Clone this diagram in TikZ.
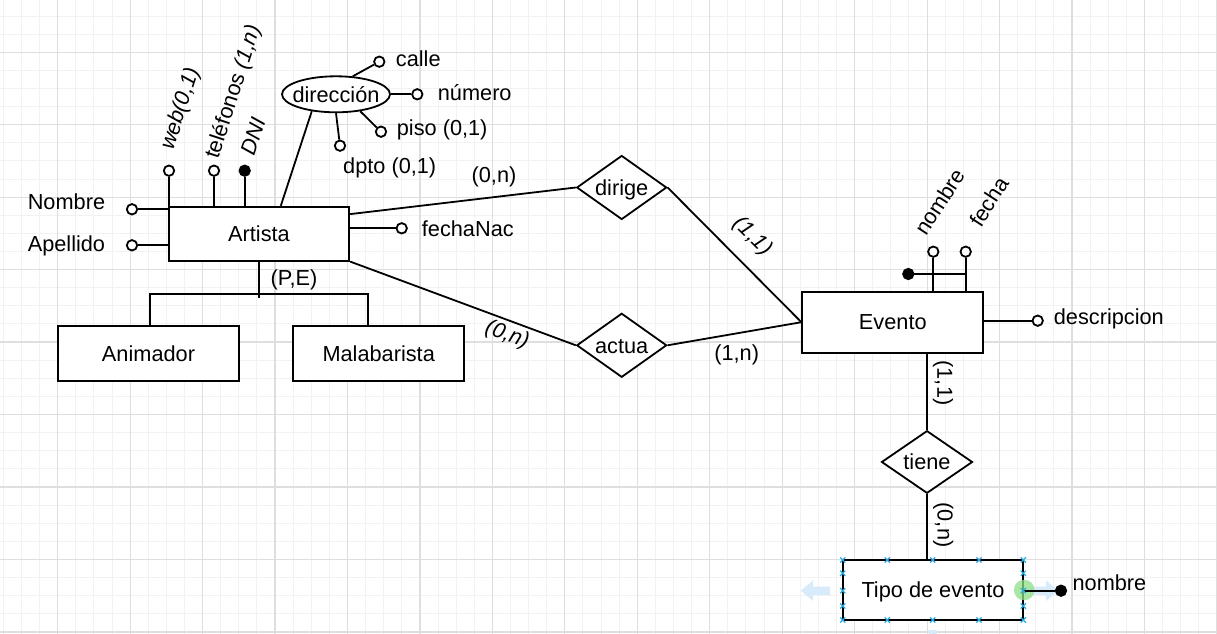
\documentclass[tikz,border=0pt]{standalone}
\usepackage{fontspec}
\setmainfont{Liberation Sans}
\usetikzlibrary{shapes.geometric,calc}
\definecolor{gridmajor}{HTML}{DEDEDE}
\definecolor{gridminor}{HTML}{F2F2F2}
\definecolor{handleblue}{HTML}{29A9E1}
\definecolor{hintblue}{HTML}{D8EBFA}
\definecolor{hovergreen}{HTML}{8EE08A}

\begin{document}
\begin{tikzpicture}[x=0.75pt,y=-0.75pt,
  font=\fontsize{16.3}{19}\selectfont,
  line width=1.35pt,
  lbl/.style={inner sep=0pt},
  entity/.style={draw, fill=white, inner sep=0pt, text height=11.7pt, text depth=0pt},
  relation/.style={draw, fill=white, diamond, aspect=1.4, inner sep=0pt,
    text height=11.7pt, text depth=0pt},
  attr/.style={draw, fill=white, circle, inner sep=0pt, minimum size=7.8pt},
  keyattr/.style={attr, fill=black},
  handle/.style={draw=handleblue, line width=0.9pt},
]
\useasboundingbox (0,0) rectangle (1217,634);

% background grid
\fill[white] (0,0) rectangle (1217,634);
\foreach \i in {-3,...,64}
  \draw[gridminor, line width=0.75pt] ({57.7+18.1125*\i},0) -- ({57.7+18.1125*\i},634);
\foreach \j in {-2,...,32}
  \draw[gridminor, line width=0.75pt] (0,{52.3+18.1125*\j}) -- (1217,{52.3+18.1125*\j});
\foreach \i in {-1,...,16}
  \draw[gridmajor, line width=0.9pt] ({57.7+72.45*\i},0) -- ({57.7+72.45*\i},634);
\foreach \j in {-1,...,8}
  \draw[gridmajor, line width=0.9pt] (0,{52.3+72.45*\j}) -- (1217,{52.3+72.45*\j});

% entities
\node[entity, minimum width=180.6*0.75pt, minimum height=54*0.75pt] (artista) at (259,233.7) {Artista};
\node[entity, minimum width=181.6*0.75pt, minimum height=54.7*0.75pt] (animador) at (148.5,353.3) {Animador};
\node[entity, minimum width=170.7*0.75pt, minimum height=54.7*0.75pt] (malabarista) at (378.7,353.3) {Malabarista};
\node[entity, minimum width=181*0.75pt, minimum height=61*0.75pt] (evento) at (892.8,322.2) {Evento};
\node[entity, minimum width=180.6*0.75pt, minimum height=60*0.75pt] (tipo) at (933,590) {Tipo de evento};

% relationships
\node[relation, minimum width=90*0.75pt, minimum height=64*0.75pt] (dirige) at (621.7,187.5) {dirige};
\node[relation, minimum width=90*0.75pt, minimum height=64*0.75pt] (actua) at (621.7,345.3) {actua};
\node[relation, minimum width=91*0.75pt, minimum height=62.6*0.75pt] (tiene) at (927,462) {tiene};

% composite attribute
\node[draw, fill=white, ellipse, inner xsep=-4.5pt, inner ysep=0pt,
  minimum width=108*0.75pt, minimum height=36*0.75pt] (dir) at (336,94.3) {dirección};

% attribute markers
\node[attr] (web) at (169,170.7) {};
\node[attr] (tel) at (214,170.7) {};
\node[keyattr] (dni) at (244.7,170.7) {};
\node[attr] (nomc) at (132,209.3) {};
\node[attr] (apec) at (132,245.3) {};
\node[attr] (fnc) at (401.7,228.3) {};
\node[attr] (calle) at (379.3,61.7) {};
\node[attr] (numero) at (417.3,94.3) {};
\node[attr] (piso) at (381,131.7) {};
\node[attr] (dpto) at (340,145.7) {};
\node[attr] (enom) at (933.3,251.7) {};
\node[attr] (efecha) at (965.7,251.7) {};
\node[keyattr] (ekey) at (908.3,274) {};
\node[attr] (edesc) at (1037.7,320.7) {};

% attribute connectors
\draw (web) -- (web |- artista.north);
\draw (tel) -- (tel |- artista.north);
\draw (dni) -- (dni |- artista.north);
\draw (nomc) -- (nomc -| artista.west);
\draw (apec) -- (apec -| artista.west);
\draw (fnc) -- (fnc -| artista.east);
\draw (dir.215) -- ($(artista.north west)+(113,0)$);
\draw (dir.47) -- (calle);
\draw (dir.east) -- (numero);
\draw (dir.325) -- (piso);
\draw (dir.south) -- (dpto);
\draw (enom) -- (enom |- evento.north);
\draw (efecha) -- (efecha |- evento.north);
\draw (ekey) -- (ekey -| efecha);
\draw (edesc) -- (edesc -| evento.east);

% relationship connectors
\draw ($(artista.north east)+(0,8.3)$) -- (dirige.west);
\draw (artista.south east) -- (actua.west);
\draw (dirige.east) -- (evento.west);
\draw (actua.east) -- (evento.west);
\draw (tiene.north) -- (tiene.north |- evento.south);
\draw (tiene.south) -- (tiene.south |- tipo.north);

% specialisation
\coordinate (genL) at (150.3,294.3);
\coordinate (genR) at (367.7,294.3);
\draw (artista.south) -- ++(0,36);
\draw (genL |- animador.north) -- (genL) -- (genR) -- (genR |- malabarista.north);

% attribute labels
\node[lbl, anchor=base east] at (106,210) {Nombre};
\node[lbl, anchor=base east] at (106,251.7) {Apellido};
\node[lbl, anchor=base west] at (395,66.7) {calle};
\node[lbl, anchor=base west] at (437,100.5) {número};
\node[lbl, anchor=base west] at (396,136) {piso (0,1)};
\node[lbl, anchor=base west] at (342.3,173.3) {dpto (0,1)};
\node[lbl, anchor=base west] at (421,236.5) {fechaNac};
\node[lbl, anchor=base west] at (1053,325) {descripcion};
\node[lbl, rotate=72] at (181,109) {\textit{web(0,1)}};
\node[lbl, rotate=72] at (234,92) {teléfonos \textit{(1,n)}};
\node[lbl, rotate=72] at (253,136) {\textit{DNI}};
\node[lbl, rotate=57] at (939.7,201.7) {nombre};
\node[lbl, rotate=57] at (989,201.7) {fecha};

% cardinalities
\node[lbl, anchor=base] at (494,183) {(0,n)};
\node[lbl, anchor=base] at (736.7,361) {(1,n)};
\node[lbl, anchor=base] at (294,286) {(P,E)};
\node[lbl, rotate=-45] at (752.5,236.7) {\textit{(1,1)}};
\node[lbl, rotate=-20] at (507,335) {\textit{(0,n)}};
\node[lbl, rotate=-90] at (943,383) {(1,1)};
\node[lbl, rotate=-90] at (943.3,525) {(0,n)};

% editor hints around the selected entity
\fill[hintblue] (800.7,590.7) -- (813,580.5) -- (813,586.5) -- (830,586.5)
  -- (830,594.9) -- (813,594.9) -- (813,600.9) -- cycle;
\fill[hintblue] (1058.7,590.7) -- (1046,580.5) -- (1046,586.5) -- (1030,586.5)
  -- (1030,594.9) -- (1046,594.9) -- (1046,600.9) -- cycle;
\fill[hintblue] (929,630) rectangle (937,634);
\fill[hovergreen, opacity=0.75] (tipo.east) circle[radius=10.3];

% key attribute of Tipo de evento
\node[keyattr] (tnom) at (1061,590.7) {};
\draw (tnom) -- (tnom -| tipo.east);
\node[lbl, anchor=base west] at (1071.7,590) {nombre};

% selection handles
\foreach \hx in {842.7,887.3,932.7,979,1023.3}
  \foreach \hy in {560,620}
    \draw[handle] (\hx-2.6,\hy-2.6) -- (\hx+2.6,\hy+2.6) (\hx-2.6,\hy+2.6) -- (\hx+2.6,\hy-2.6);
\foreach \hx in {842.7,1023.3}
  \foreach \hy in {573.3,590.7,606}
    \draw[handle] (\hx-2.6,\hy-2.6) -- (\hx+2.6,\hy+2.6) (\hx-2.6,\hy+2.6) -- (\hx+2.6,\hy-2.6);
\end{tikzpicture}
\end{document}
